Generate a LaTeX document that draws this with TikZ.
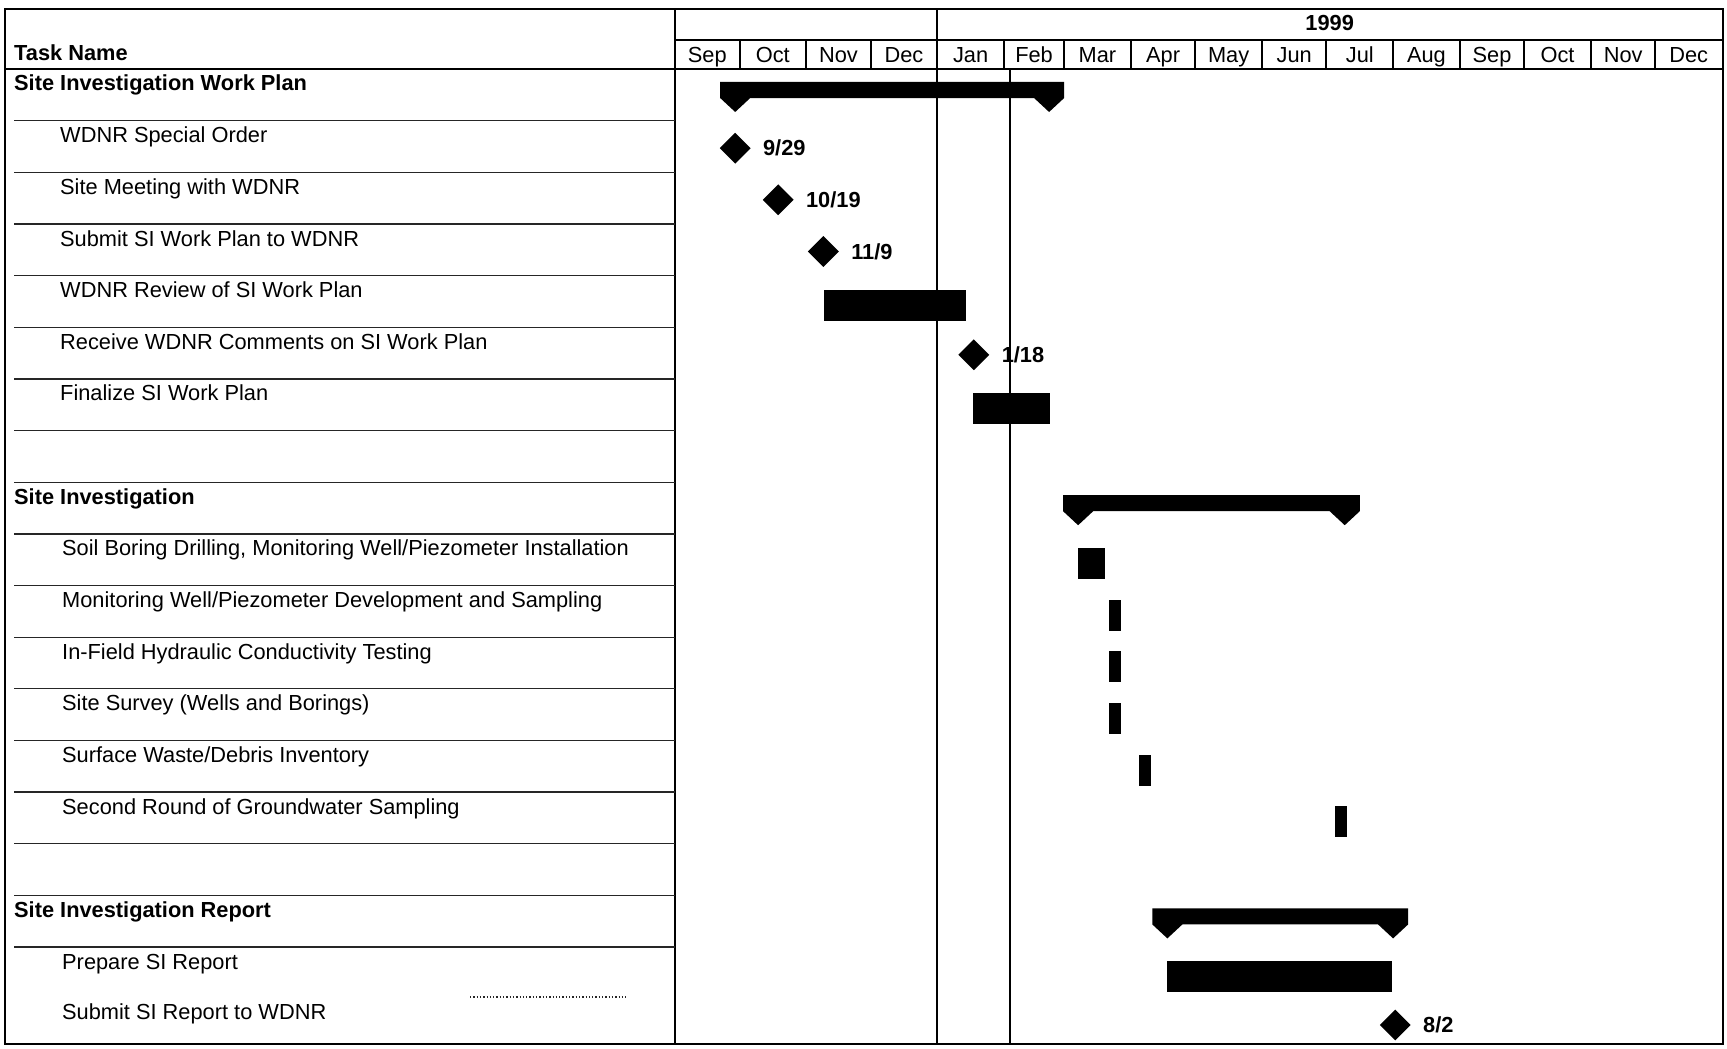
\documentclass[tikz,border=0pt]{standalone}
\usepackage{fontspec}
\setmainfont{Liberation Sans}
\usetikzlibrary{shapes.geometric,positioning}

\tikzset{
  task/.style={anchor=base west, inner sep=0pt, font=\fontsize{21.8pt}{26pt}\selectfont},
  group/.style={task, font=\fontsize{21.8pt}{26pt}\selectfont\bfseries},
  month/.style={anchor=base, inner sep=0pt, font=\fontsize{21.8pt}{26pt}\selectfont},
  milestone/.style={diamond, fill=black, inner sep=0pt, minimum width=31pt, minimum height=31pt},
  datelabel/.style={anchor=west, inner sep=0pt, font=\fontsize{21.8pt}{26pt}\selectfont\bfseries},
  rowline/.style={black!85, line width=1.3pt},
  grid/.style={black, line width=2pt},
}

\begin{document}
\begin{tikzpicture}[x=1pt, y=-1pt]
            \fill[white] (0,0) rectangle (1727,1049);
            \draw[grid] (5,9) rectangle (1723,1044);
            \draw[grid] (675,9) -- (675,1044);
            \draw[grid] (675,40) -- (1723,40);
            \draw[grid] (5,69) -- (1723,69);
            \node[group] (head) at (14,60.5) {Task Name};

            % table rows
            \draw[rowline] (14,120.7) -- (675,120.7);
            \draw[rowline] (14,172.3) -- (675,172.3);
            \draw[rowline] (14,224) -- (675,224);
            \draw[rowline] (14,275.6) -- (675,275.6);
            \draw[rowline] (14,327.3) -- (675,327.3);
            \draw[rowline] (14,378.9) -- (675,378.9);
            \draw[rowline] (14,430.6) -- (675,430.6);
            \draw[rowline] (14,482.2) -- (675,482.2);
            \draw[rowline] (14,533.9) -- (675,533.9);
            \draw[rowline] (14,585.5) -- (675,585.5);
            \draw[rowline] (14,637.2) -- (675,637.2);
            \draw[rowline] (14,688.8) -- (675,688.8);
            \draw[rowline] (14,740.5) -- (675,740.5);
            \draw[rowline] (14,792.1) -- (675,792.1);
            \draw[rowline] (14,843.8) -- (675,843.8);
            \draw[rowline] (14,895.4) -- (675,895.4);
            \draw[rowline] (14,947.1) -- (675,947.1);
            \draw[rowline, dotted] (470,997) -- (628,997);

            \node[group] (wp) at (14,91) {Site Investigation Work Plan};
            \node[task] (order) at (60,142.7) {WDNR Special Order};
            \node[task] (meet) at (60,194.3) {Site Meeting with WDNR};
            \node[task] (submit) at (60,246) {Submit SI Work Plan to WDNR};
            \node[task] (review) at (60,297.6) {WDNR Review of SI Work Plan};
            \node[task] (comments) at (60,349.3) {Receive WDNR Comments on SI Work Plan};
            \node[task] (final) at (60,400.9) {Finalize SI Work Plan};
            \node[group] (si) at (14,504.2) {Site Investigation};
            \node[task] (boring) at (62,555.9) {Soil Boring Drilling, Monitoring Well/Piezometer Installation};
            \node[task] (develop) at (62,607.5) {Monitoring Well/Piezometer Development and Sampling};
            \node[task] (hydro) at (62,659.2) {In-Field Hydraulic Conductivity Testing};
            \node[task] (survey) at (62,710.8) {Site Survey (Wells and Borings)};
            \node[task] (waste) at (62,762.5) {Surface Waste/Debris Inventory};
            \node[task] (gw) at (62,814.1) {Second Round of Groundwater Sampling};
            \node[group] (report) at (14,917.4) {Site Investigation Report};
            \node[task] (prep) at (62,969.1) {Prepare SI Report};
            \node[task] (subrep) at (62,1019.5) {Submit SI Report to WDNR};

            % time scale, x in days from 1 Sep 1998
            \begin{scope}[shift={(675,0)}, x=2.15pt]
                \draw[grid] (122,9) -- (122,1044);
                \draw[grid] (156,69) -- (156,1044);
                \draw[grid] (30,40) -- (30,69) (61,40) -- (61,69) (91,40) -- (91,69)
                    (153,40) -- (153,69) (181,40) -- (181,69) (212,40) -- (212,69)
                    (242,40) -- (242,69) (273,40) -- (273,69) (303,40) -- (303,69)
                    (334,40) -- (334,69) (365,40) -- (365,69) (395,40) -- (395,69)
                    (426,40) -- (426,69) (456,40) -- (456,69);

                \node[month, font=\fontsize{21.8pt}{26pt}\selectfont\bfseries] (year) at (304.5,31) {1999};
                \node[month] (sep) at (15,62.5) {Sep};
                \node[month] (oct) at (45.5,62.5) {Oct};
                \node[month] (nov) at (76,62.5) {Nov};
                \node[month] (dec) at (106.5,62.5) {Dec};
                \node[month] (jan) at (137.5,62.5) {Jan};
                \node[month] (feb) at (167,62.5) {Feb};
                \node[month] (mar) at (196.5,62.5) {Mar};
                \node[month] (apr) at (227,62.5) {Apr};
                \node[month] (may) at (257.5,62.5) {May};
                \node[month] (jun) at (288,62.5) {Jun};
                \node[month] (jul) at (318.5,62.5) {Jul};
                \node[month] (aug) at (349.5,62.5) {Aug};
                \node[month] (sepb) at (380,62.5) {Sep};
                \node[month] (octb) at (410.5,62.5) {Oct};
                \node[month] (novb) at (441,62.5) {Nov};
                \node[month] (decb) at (471.5,62.5) {Dec};

                % summary bars
                \fill (21,82) -- (181,82) -- (181,98) -- (174,112) -- (167,98) -- (35,98) -- (28,112) -- (21,98) -- cycle;
                \fill (180.5,495.2) -- (318.5,495.2) -- (318.5,511.2) -- (311.5,525.2) -- (304.5,511.2) -- (194.5,511.2) -- (187.5,525.2) -- (180.5,511.2) -- cycle;
                \fill (222,908.4) -- (341,908.4) -- (341,924.4) -- (334,938.4) -- (327,924.4) -- (236,924.4) -- (229,938.4) -- (222,924.4) -- cycle;

                % tasks
                \fill (69.5,289.6) rectangle (135.5,320.6);
                \fill (138.5,392.9) rectangle (174.5,423.9);
                \fill (187.5,547.9) rectangle (200,578.9);
                \fill (202,599.5) rectangle (207.5,630.5);
                \fill (202,651.2) rectangle (207.5,682.2);
                \fill (202,702.8) rectangle (207.5,733.8);
                \fill (216,754.5) rectangle (221.5,785.5);
                \fill (307,806.1) rectangle (312.5,837.1);
                \fill (229,961.1) rectangle (333.5,992.1);

                % milestones
                \node[milestone] (ms1) at (28,148.2) {};
                \node[datelabel, right=12pt of ms1] (d1) {9/29};
                \node[milestone] (ms2) at (48,199.8) {};
                \node[datelabel, right=12pt of ms2] (d2) {10/19};
                \node[milestone] (ms3) at (69,251.5) {};
                \node[datelabel, right=12pt of ms3] (d3) {11/9};
                \node[milestone] (ms4) at (139,354.8) {};
                \node[datelabel, right=12pt of ms4] (d4) {1/18};
                \node[milestone] (ms5) at (335,1025) {};
                \node[datelabel, right=12pt of ms5] (d5) {8/2};
            \end{scope}
\end{tikzpicture}
\end{document}
